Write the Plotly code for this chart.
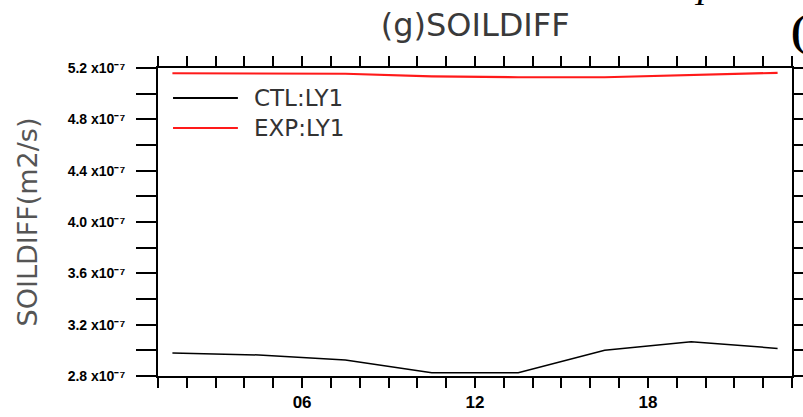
import plotly.graph_objects as go

hours = [1.5, 4.5, 7.5, 10.5, 13.5, 16.5, 19.5, 22.5]
ctl_ly1 = [2.980e-7, 2.964e-7, 2.925e-7, 2.826e-7, 2.826e-7, 3.000e-7, 3.067e-7, 3.015e-7]
exp_ly1 = [5.159e-7, 5.159e-7, 5.155e-7, 5.135e-7, 5.128e-7, 5.128e-7, 5.145e-7, 5.162e-7]

y_tick_vals = [2.8e-7, 3.2e-7, 3.6e-7, 4.0e-7, 4.4e-7, 4.8e-7, 5.2e-7]
y_tick_text = ["2.8 x10⁻⁷", "3.2 x10⁻⁷", "3.6 x10⁻⁷", "4.0 x10⁻⁷", "4.4 x10⁻⁷", "4.8 x10⁻⁷", "5.2 x10⁻⁷"]
y_minor_vals = [3.0e-7, 3.4e-7, 3.8e-7, 4.2e-7, 4.6e-7, 5.0e-7]
x_tick_vals = list(range(1, 24))
x_label_map = {6: "06", 12: "12", 18: "18"}
x_tick_text = [x_label_map.get(v, "") for v in x_tick_vals]

series = [("CTL:LY1", ctl_ly1, "black", 1.5), ("EXP:LY1", exp_ly1, "#ff1a1a", 2.2)]

fig = go.Figure()
for name, vals, color, w in series:
    fig.add_trace(go.Scatter(x=hours, y=vals, mode="lines", name=name,
                             line=dict(color=color, width=w), showlegend=False))

fig.update_layout(
    width=803, height=417, autosize=False,
    margin=dict(l=158, r=11, t=68, b=41, pad=0, autoexpand=False),
    paper_bgcolor="white", plot_bgcolor="white", showlegend=False,
    title=dict(text="(g)SOILDIFF", x=0.5917, xanchor="center", y=1 - 25 / 417, yanchor="middle",
               automargin=False,
               font=dict(family="DejaVu Sans", size=32, color="#3a3a3a")),
    xaxis=dict(range=[1, 23], tickmode="array", tickvals=x_tick_vals, ticktext=x_tick_text,
               automargin=False,
               ticks="outside", ticklen=10, tickwidth=2, tickcolor="black",
               showline=True, linecolor="black", linewidth=2, mirror="ticks",
               showgrid=False, zeroline=False,
               tickfont=dict(family="Liberation Sans", size=17, color="black", weight="bold")),
    yaxis=dict(range=[2.8e-7, 5.2e-7], tickmode="array", tickvals=y_tick_vals, ticktext=y_tick_text,
               automargin=False, ticklabelstandoff=8,
               ticks="outside", ticklen=20, tickwidth=2, tickcolor="black",
               minor=dict(tickmode="array", tickvals=y_minor_vals,
                          ticks="outside", ticklen=20, tickwidth=2, tickcolor="black", showgrid=False),
               showline=True, linecolor="black", linewidth=2, mirror="ticks",
               showgrid=False, zeroline=False,
               tickfont=dict(family="Liberation Sans", size=14, color="black", weight="bold"),
               title=dict(text="SOILDIFF(m2/s)", standoff=22,
                          font=dict(family="DejaVu Sans", size=27, color="#555555"))),
)

# legend drawn inside plot
leg_y = [0.9026, 0.805]
for (name, vals, color, w), ly in zip(series, leg_y):
    fig.add_shape(type="line", xref="paper", yref="paper", x0=0.0237, x1=0.126, y0=ly, y1=ly,
                  line=dict(color=color, width=2))
    fig.add_annotation(xref="paper", yref="paper", x=0.148, y=ly, xanchor="left", yanchor="middle",
                       text=name, showarrow=False,
                       font=dict(family="DejaVu Sans", size=23, color="#333333"))

# cropped neighbouring characters at top right
fig.add_annotation(xref="paper", yref="paper", x=(701 - 158) / 634, y=(376 - 14) / 308,
                   xanchor="center", yanchor="bottom", text="<i>I</i>", showarrow=False,
                   font=dict(family="Liberation Serif", size=34, color="black"))
fig.add_annotation(xref="paper", yref="paper", x=(789 - 158) / 634, y=(376 - 31) / 308,
                   xanchor="left", yanchor="middle", text="<b>(</b>", showarrow=False,
                   font=dict(family="Liberation Serif", size=42, color="black"))

fig.write_html("out.html")
